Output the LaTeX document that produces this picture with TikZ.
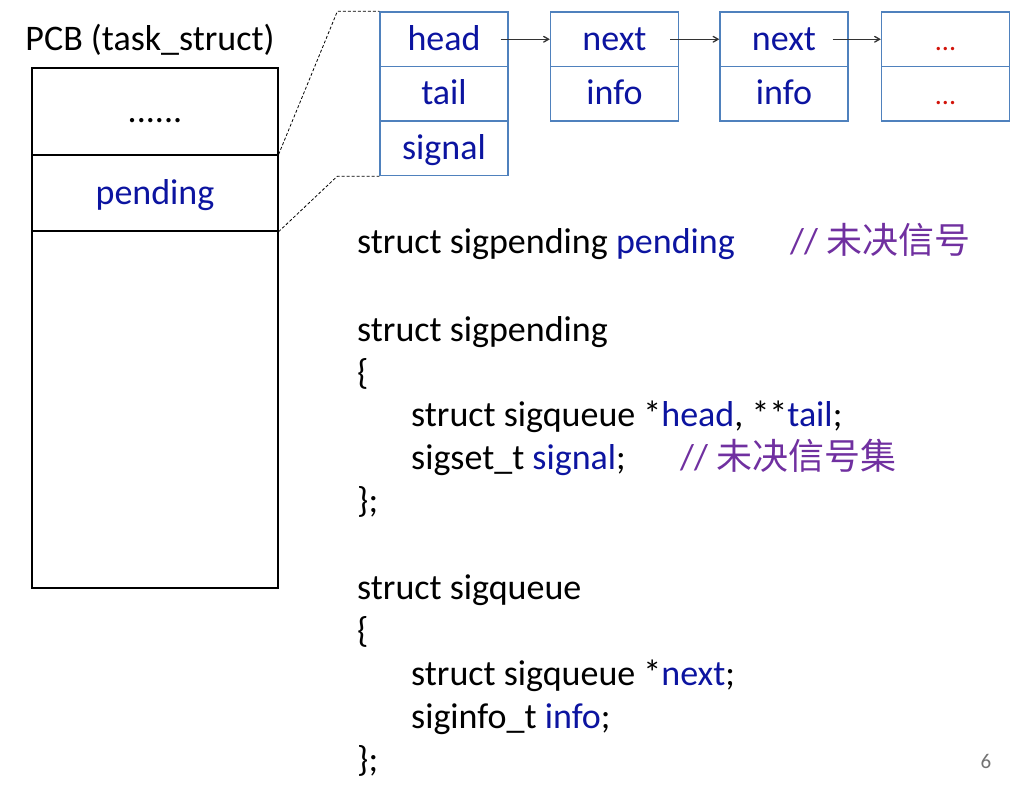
\documentclass[tikz,border=0pt]{standalone}
\usepackage{fontspec}
\setmainfont{Carlito}
\newfontfamily\cjk{Noto Sans CJK SC}
\usetikzlibrary{arrows}
\definecolor{kwblue}{RGB}{12,20,160}
\definecolor{boxblue}{RGB}{79,129,189}
\definecolor{cmtpurple}{RGB}{112,48,160}
\definecolor{dotred}{RGB}{210,20,10}
\tikzstyle{every picture}+=[>=angle 60]
\tikzstyle{every picture}+=[x=1pt,y=-1pt]
\tikzstyle{every picture}+=[font=\fontsize{36}{42}\selectfont]
\tikzstyle{cell}=[draw=boxblue, line width=1.3pt, text=kwblue]
\tikzstyle{cell}+=[minimum width=128pt, minimum height=54.5pt, inner sep=0pt]
\tikzstyle{cell}+=[text height=25pt, text depth=3pt]
\tikzstyle{pcbrow}=[draw, line width=1.3pt, minimum width=246pt, inner sep=0pt]
\tikzstyle{pcbrow}+=[text height=25pt, text depth=3pt]
\tikzstyle{code}=[anchor=base west, inner sep=0pt]
\tikzstyle{link}=[->, line width=1.3pt, black!80]
\tikzstyle{zoomline}=[densely dashed, line width=0.8pt]
\newcommand{\kw}[1]{\textcolor{kwblue}{#1}}
\newcommand{\cmt}[1]{\textcolor{cmtpurple}{// {\cjk #1}}}

\begin{document}
\begin{tikzpicture}
\useasboundingbox (0,0) rectangle (1036,792);

% the PCB
\node (pcb) at (150,40) {PCB (task\_struct)};
\node[pcbrow, minimum height=87pt] (r1) at (155,111.5) {......};
\node[pcbrow, minimum height=76pt] (r2) [below of=r1, node distance=81.5pt] {\kw{pending}};
\node[pcbrow, minimum height=357pt] (r3) [below of=r2, node distance=216.5pt] {};

% sigpending and the queue
\node[cell] (hd) at (444,39.25) {head};
\node[cell] (tl) [below of=hd, node distance=54.5pt] {tail};
\node[cell] (sg) [below of=tl, node distance=54.5pt] {signal};
\node[cell] (n1) [right of=hd, node distance=170.5pt] {next};
\node[cell] (i1) [below of=n1, node distance=54.5pt] {info};
\node[cell] (n2) [right of=n1, node distance=169.5pt] {next};
\node[cell] (i2) [below of=n2, node distance=54.5pt] {info};
\node[cell, text=dotred, font=\fontsize{28}{34}\selectfont] (n3) [right of=n2, node distance=161.5pt] {...};
\node[cell, text=dotred, font=\fontsize{28}{34}\selectfont] (i3) [below of=n3, node distance=54.5pt] {...};

\path[link]
   (hd.east) edge[shorten <=-8pt] (n1.west)
   (n1.east) edge[shorten <=-9pt] (n2.west)
   (n2.east) edge[shorten <=-16pt] (n3.west)
;

\draw[zoomline] (r2.north east) -- ([xshift=-42pt]hd.north west) -- (hd.north west);
\draw[zoomline] (r2.south east) -- ([xshift=-42pt]sg.south west) -- (sg.south west);

% the code
\node[code] (decl) at (357,253) {struct sigpending \kw{pending}};
\node[code] (cm1) at (790,253) {\cmt{未决信号}};
\node[code] (sp) at (357,341) {struct sigpending};
\node[code] (spo) at (357,384) {\{};
\node[code] (sphd) at (411,426) {struct sigqueue *\kw{head}, **\kw{tail};};
\node[code] (spsg) at (411,469) {sigset\_t \kw{signal};};
\node[code] (cm2) at (680,469) {\cmt{未决信号集}};
\node[code] (spc) at (357,512) {\};};
\node[code] (sq) at (357,599) {struct sigqueue};
\node[code] (sqo) at (357,642) {\{};
\node[code] (sqnx) at (411,685) {struct sigqueue *\kw{next};};
\node[code] (sqif) at (411,728) {siginfo\_t \kw{info};};
\node[code] (sqc) at (357,771) {\};};

\node[text=black!55, font=\fontsize{21}{24}\selectfont] (pg) at (986,761) {6};
\end{tikzpicture}
\end{document}
